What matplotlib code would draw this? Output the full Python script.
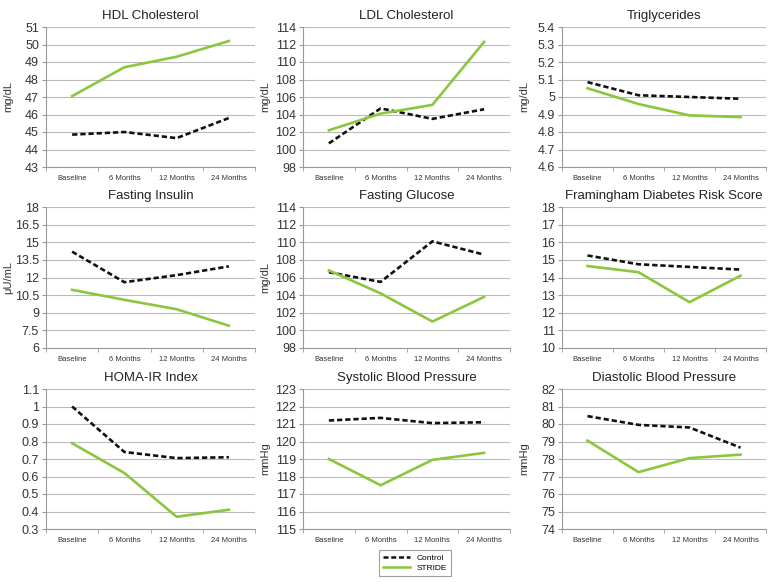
import matplotlib.pyplot as plt
from matplotlib.lines import Line2D

plt.rcParams['font.family'] = ['Liberation Sans', 'DejaVu Sans']

# time points
times = ['Baseline', '6 Months', '12 Months', '24 Months']

# panel titles, units and y axis settings
titles = ['HDL Cholesterol', 'LDL Cholesterol', 'Triglycerides',
          'Fasting Insulin', 'Fasting Glucose', 'Framingham Diabetes Risk Score',
          'HOMA-IR Index', 'Systolic Blood Pressure', 'Diastolic Blood Pressure']
units = ['mg/dL', 'mg/dL', 'mg/dL',
         'μU/mL', 'mg/dL', '',
         '', 'mmHg', 'mmHg']
y_min = [43, 98, 4.6, 6, 98, 10, 0.3, 115, 74]
y_max = [51, 114, 5.4, 18, 114, 18, 1.1, 123, 82]
y_step = [1, 2, 0.1, 1.5, 2, 1, 0.1, 1, 1]

# values
control = [
    [44.85, 45.0, 44.65, 45.8],
    [100.7, 104.7, 103.5, 104.6],
    [5.085, 5.01, 5.0, 4.99],
    [14.2, 11.6, 12.2, 12.95],
    [106.6, 105.5, 110.1, 108.6],
    [15.25, 14.75, 14.6, 14.45],
    [1.0, 0.74, 0.705, 0.71],
    [121.2, 121.35, 121.05, 121.1],
    [80.45, 79.95, 79.8, 78.65],
]
stride = [
    [47.05, 48.7, 49.3, 50.2],
    [102.2, 104.1, 105.1, 112.3],
    [5.05, 4.96, 4.895, 4.885],
    [10.95, 10.1, 9.3, 7.9],
    [106.8, 104.2, 101.0, 103.8],
    [14.65, 14.3, 12.6, 14.1],
    [0.79, 0.62, 0.37, 0.41],
    [119.0, 117.5, 118.95, 119.35],
    [79.05, 77.25, 78.05, 78.25],
]

green = '#8cc63e'

fig = plt.figure(figsize=(7.68, 5.83), dpi=100)
W, H = 768, 583
lefts = [46, 303, 562]
rights = [255, 510, 766]
tops = [27, 207, 389]
bottoms = [167, 348, 529]


def fmt(v):
    return '%g' % round(v, 3)


for i in range(9):
    r, c = divmod(i, 3)
    aw = rights[c] - lefts[c]
    ax = fig.add_axes([lefts[c] / W, 1 - bottoms[r] / H,
                       aw / W, (bottoms[r] - tops[r]) / H])
    x = range(len(times))
    ax.plot(x, control[i], color='#111111', ls=(0, (2.0, 1.1)), lw=1.9)
    ax.plot(x, stride[i], color=green, lw=1.9)
    ax.set_xlim(-0.5, 3.5)
    ax.set_ylim(y_min[i], y_max[i])
    n = int(round((y_max[i] - y_min[i]) / y_step[i]))
    yt = [y_min[i] + k * y_step[i] for k in range(n + 1)]
    ax.set_yticks(yt)
    ax.set_yticklabels([fmt(v) for v in yt], fontsize=9, color='#333333')
    ax.set_xticks(list(x))
    ax.set_xticklabels(times, fontsize=5.5, color='#333333')
    ax.set_xticks([-0.5, 0.5, 1.5, 2.5, 3.5], minor=True)
    ax.tick_params(axis='x', which='major', length=0, pad=6)
    ax.tick_params(axis='x', which='minor', length=3, color='#999999')
    ax.tick_params(axis='y', length=3, color='#999999', pad=2)
    ax.grid(axis='y', color='#bbbbbb', lw=0.8)
    ax.set_axisbelow(True)
    for s in ['top', 'right']:
        ax.spines[s].set_visible(False)
    for s in ['left', 'bottom']:
        ax.spines[s].set_color('#999999')
        ax.spines[s].set_linewidth(0.8)
    ax.set_title(titles[i], fontsize=9.5, color='#222222', pad=6)
    if units[i]:
        ax.set_ylabel(units[i], fontsize=8, color='#333333')
        ax.yaxis.set_label_coords(-33 / aw, 0.5)

handles = [Line2D([], [], color='#111111', ls=(0, (2.0, 1.1)), lw=1.8),
           Line2D([], [], color=green, lw=1.8)]
leg = fig.legend(handles, ['Control', 'STRIDE'], loc='center',
                 bbox_to_anchor=(415 / W, 1 - 563 / H), fontsize=6,
                 frameon=True, fancybox=False, handlelength=3.2,
                 borderpad=0.5, labelspacing=0.3)
leg.get_frame().set_edgecolor('#888888')
leg.get_frame().set_linewidth(0.8)

fig.savefig('out.png', dpi=100)
